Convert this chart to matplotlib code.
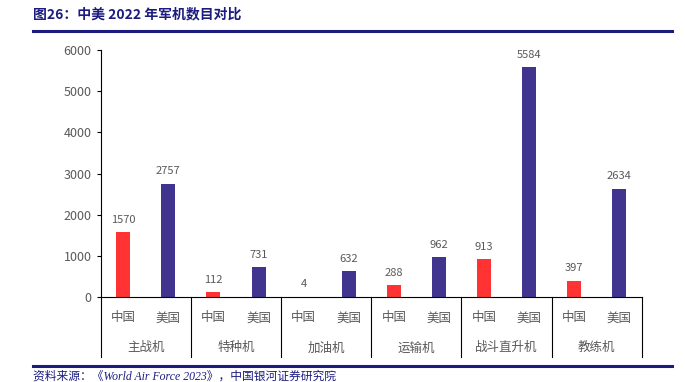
import matplotlib
matplotlib.use("Agg")
import matplotlib.pyplot as plt
from matplotlib.lines import Line2D

plt.rcParams['font.family'] = ['Noto Sans CJK SC', 'DejaVu Sans']

categories = ["主战机", "特种机", "加油机", "运输机", "战斗直升机", "教练机"]
countries = ["中国", "美国"]
china = [1570, 112, 4, 288, 913, 397]
usa = [2757, 731, 632, 962, 5584, 2634]
yticks = [0, 1000, 2000, 3000, 4000, 5000, 6000]

RED = "#FF3333"
PURPLE = "#41348F"
NAVY = "#1C1C80"
GRAY = "#595959"

fig = plt.figure(figsize=(6.85, 3.82), dpi=100)
ax = fig.add_axes([0.147, 0.2225, 0.79, 0.6465])

n = len(categories)
xc = [2 * i for i in range(n)]
xu = [2 * i + 1 for i in range(n)]
w = 0.31
ax.bar(xc, china, width=w, color=RED)
ax.bar(xu, usa, width=w, color=PURPLE)
for x, v in zip(xc + xu, china + usa):
    ax.text(x, v + 180, str(v), ha="center", va="bottom", fontsize=8, color=GRAY)

ax.set_xlim(-0.5, 2 * n - 0.5)
ax.set_ylim(0, 6000)
ax.set_yticks(yticks)
ax.tick_params(axis="y", labelsize=9, labelcolor=GRAY, length=3, color="black", width=0.8)
ax.set_xticks([])
for s in ["top", "right"]:
    ax.spines[s].set_visible(False)
ax.spines["left"].set_color("black")
ax.spines["bottom"].set_color("black")

# two-level category axis
tr = ax.get_xaxis_transform()
for i in range(n + 1):
    xs = 2 * i - 0.5
    ax.add_line(Line2D([xs, xs], [0, -0.243], transform=tr, color="black", lw=0.8, clip_on=False))
for i, cat in enumerate(categories):
    for j, c in enumerate(countries):
        ax.text(2 * i + j, -0.085, c, transform=tr, ha="center", va="center", fontsize=9, color=GRAY)
    ax.text(2 * i + 0.5, -0.206, cat, transform=tr, ha="center", va="center", fontsize=9, color=GRAY)

# header / footer
fig.text(33 / 685, 1 - 14 / 382, "图26：中美 2022 年军机数目对比", ha="left", va="center",
         fontsize=10, fontweight="bold", color=NAVY)
fig.add_artist(Line2D([33 / 685, 672 / 685], [1 - 31 / 382] * 2, color=NAVY, lw=2.2))
fig.add_artist(Line2D([33 / 685, 672 / 685], [1 - 366 / 382] * 2, color=NAVY, lw=2.2))
fig.text(33 / 685, 1 - 377 / 382, "资料来源：《World Air Force 2023》，中国银河证券研究院", ha="left", va="center",
         fontsize=8.5, style="italic", color=NAVY,
         family=['Liberation Serif', 'Noto Sans CJK SC'])

fig.savefig("out.png", dpi=100)
